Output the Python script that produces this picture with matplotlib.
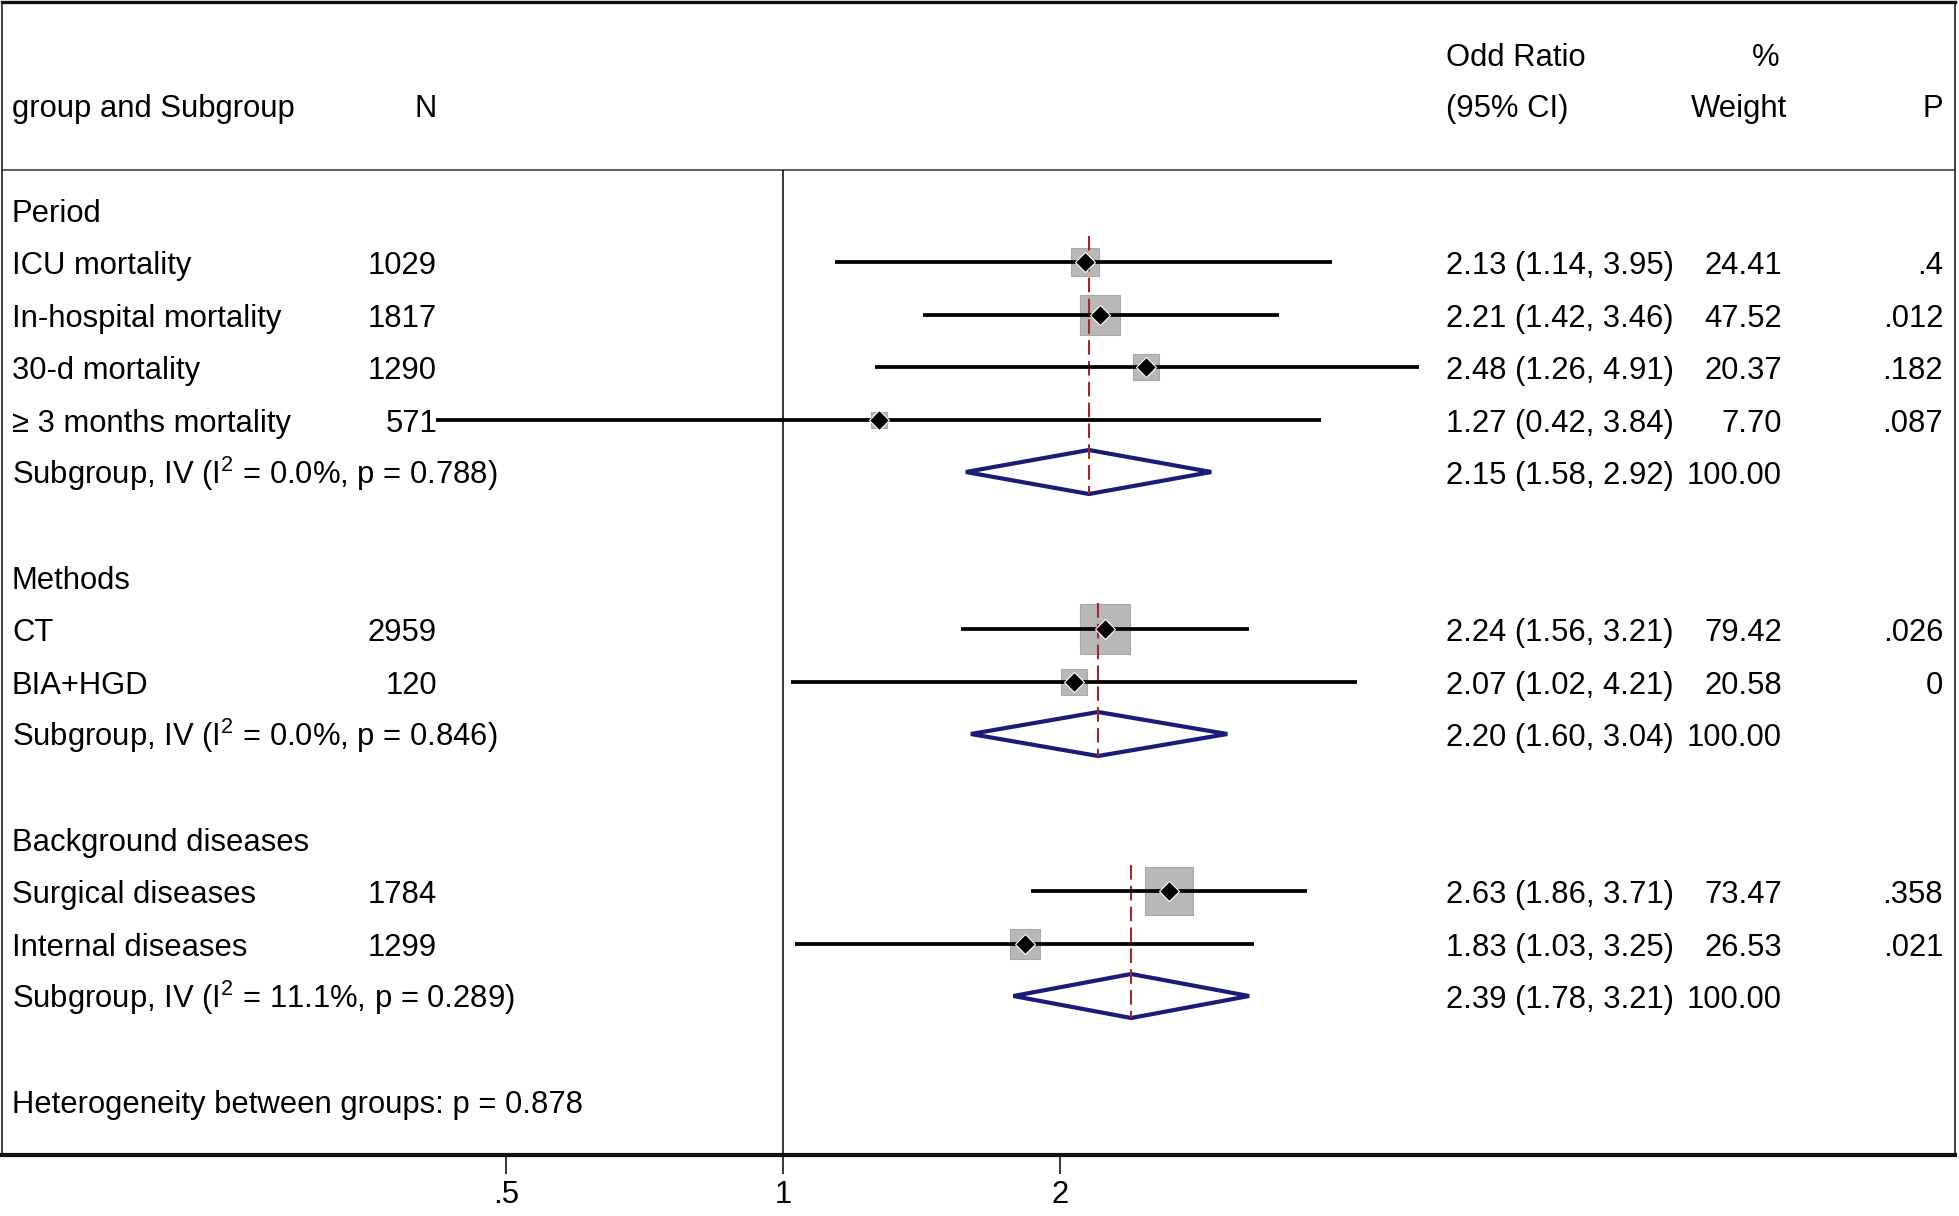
import numpy as np
import matplotlib
matplotlib.use("Agg")
import matplotlib.pyplot as plt
from matplotlib.patches import Polygon
from matplotlib import transforms

# ---------------- data ----------------
group_names = ["Period", "Methods", "Background diseases"]
study_group = [0, 0, 0, 0, 1, 1, 2, 2]
study_labels = ["ICU mortality", "In-hospital mortality", "30-d mortality",
                "\u2265 3 months mortality", "CT", "BIA+HGD",
                "Surgical diseases", "Internal diseases"]
study_n = [1029, 1817, 1290, 571, 2959, 120, 1784, 1299]
study_or = [2.13, 2.21, 2.48, 1.27, 2.24, 2.07, 2.63, 1.83]
study_lo = [1.14, 1.42, 1.26, 0.42, 1.56, 1.02, 1.86, 1.03]
study_hi = [3.95, 3.46, 4.91, 3.84, 3.21, 4.21, 3.71, 3.25]
study_weight = [24.41, 47.52, 20.37, 7.70, 79.42, 20.58, 73.47, 26.53]
study_p = [".4", ".012", ".182", ".087", ".026", "0", ".358", ".021"]

sub_or = [2.15, 2.20, 2.39]
sub_lo = [1.58, 1.60, 1.78]
sub_hi = [2.92, 3.04, 3.21]
sub_weight = [100.00, 100.00, 100.00]
sub_i2 = ["0.0%", "0.0%", "11.1%"]
sub_p = ["0.788", "0.846", "0.289"]
het_p = "0.878"

xticks = [0.5, 1, 2]
xticklabels = [".5", "1", "2"]

# ---------------- style ----------------
plt.rcParams['font.family'] = ['Liberation Sans', 'DejaVu Sans']
plt.rcParams['mathtext.fontset'] = 'custom'
plt.rcParams['mathtext.rm'] = 'Liberation Sans'
plt.rcParams['mathtext.it'] = 'Liberation Sans:italic'
plt.rcParams['mathtext.default'] = 'regular'
FS = 22.3

W, H = 1959, 1216
fig = plt.figure(figsize=(W / 100, H / 100), dpi=100)

# layout in pixels
left_px, right_px, top_px, bot_px = 2, 1955, 2, 1155
row0_px, row_h = 210, 52.4
one_px, dbl_px = 783, 277.0

ax = fig.add_axes([left_px / W, 1 - bot_px / H, (right_px - left_px) / W,
                   (bot_px - top_px) / H])
ax.set_xscale('log')
ax.set_xlim(2 ** ((left_px - one_px) / dbl_px), 2 ** ((right_px - one_px) / dbl_px))
ax.set_ylim((bot_px - row0_px) / row_h, (top_px - row0_px) / row_h)
ax.set_facecolor('white')

ax.set_xticks(xticks)
ax.set_xticklabels(xticklabels)
ax.minorticks_off()
ax.set_yticks([])
ax.tick_params(axis='x', direction='out', length=13.5, width=1.1,
               labelsize=FS, pad=4.5, colors='black')
ax.spines['top'].set_linewidth(2.4)
ax.spines['bottom'].set_linewidth(3.0)
ax.spines['left'].set_linewidth(1.1)
ax.spines['right'].set_linewidth(1.1)
for s in ax.spines.values():
    s.set_color('#111111')

tr = transforms.blended_transform_factory(fig.transFigure, ax.transData)


def fx(px):
    return px / W


X_LABEL, X_N, X_OR, X_W, X_P = 12, 437, 1446, 1782, 1943
BASE = 0.23  # baseline offset (rows) below row centre


def put(xpx, r, s, ha='left'):
    ax.text(fx(xpx), r + BASE, s, transform=tr, ha=ha, va='baseline',
            fontsize=FS, color='black')


# header
hdr_line = (170 - row0_px) / row_h
ax.axhline(hdr_line, color='#333333', lw=1.1)
put(X_LABEL, -2.0, "group and Subgroup")
put(X_N, -2.0, "N", ha='right')
put(X_OR, -2.98, "Odd Ratio")
put(X_OR, -2.0, "(95% CI)")
ax.text(fx(1766), -2.98 + BASE, "%", transform=tr, ha='center', va='baseline',
        fontsize=FS)
put(1787, -2.0, "Weight", ha='right')
put(X_P, -2.0, "P", ha='right')

# vertical line at OR = 1
ax.plot([1, 1], [hdr_line, ax.get_ylim()[0]], color='black', lw=1.1,
        solid_capstyle='butt', zorder=2)

NAVY = '#1b1b78'
RED = '#a3262c'
r = 0
for g, gname in enumerate(group_names):
    put(X_LABEL, r, gname)
    first = r + 1
    r += 1
    idx = [i for i, sg in enumerate(study_group) if sg == g]
    for i in idx:
        put(X_LABEL, r, study_labels[i])
        put(X_N, r, str(study_n[i]), ha='right')
        put(X_OR, r, f"{study_or[i]:.2f} ({study_lo[i]:.2f}, {study_hi[i]:.2f})")
        put(X_W, r, f"{study_weight[i]:.2f}", ha='right')
        put(X_P, r, study_p[i], ha='right')
        ax.scatter([study_or[i]], [r], marker='s', s=16.8 * study_weight[i],
                   facecolor='#b8b8b8', edgecolor='#a8a8a8', linewidth=0.8,
                   zorder=3)
        ax.plot([study_lo[i], study_hi[i]], [r, r], color='black', lw=2.7,
                solid_capstyle='butt', zorder=4)
        ax.plot([study_or[i]], [r], marker='D', ms=10.5, color='black',
                mec='white', mew=0.8, zorder=5)
        r += 1
    # subgroup
    put(X_LABEL, r, f"Subgroup, IV ($I^2$ = {sub_i2[g]}, p = {sub_p[g]})")
    put(X_OR, r, f"{sub_or[g]:.2f} ({sub_lo[g]:.2f}, {sub_hi[g]:.2f})")
    put(X_W, r, f"{sub_weight[g]:.2f}", ha='right')
    hh = 0.42
    dia = Polygon([(sub_lo[g], r), (sub_or[g], r - hh), (sub_hi[g], r),
                   (sub_or[g], r + hh)], closed=True, facecolor='white',
                  edgecolor=NAVY, lw=3.0, zorder=3, joinstyle='miter')
    ax.add_patch(dia)
    ax.plot([sub_or[g], sub_or[g]], [first - 0.5, r + hh], color=RED, lw=1.5,
            dashes=(7, 3), zorder=3.5)
    r += 2

put(X_LABEL, r, f"Heterogeneity between groups: p = {het_p}")

fig.savefig("out.png", dpi=100, facecolor='white')
